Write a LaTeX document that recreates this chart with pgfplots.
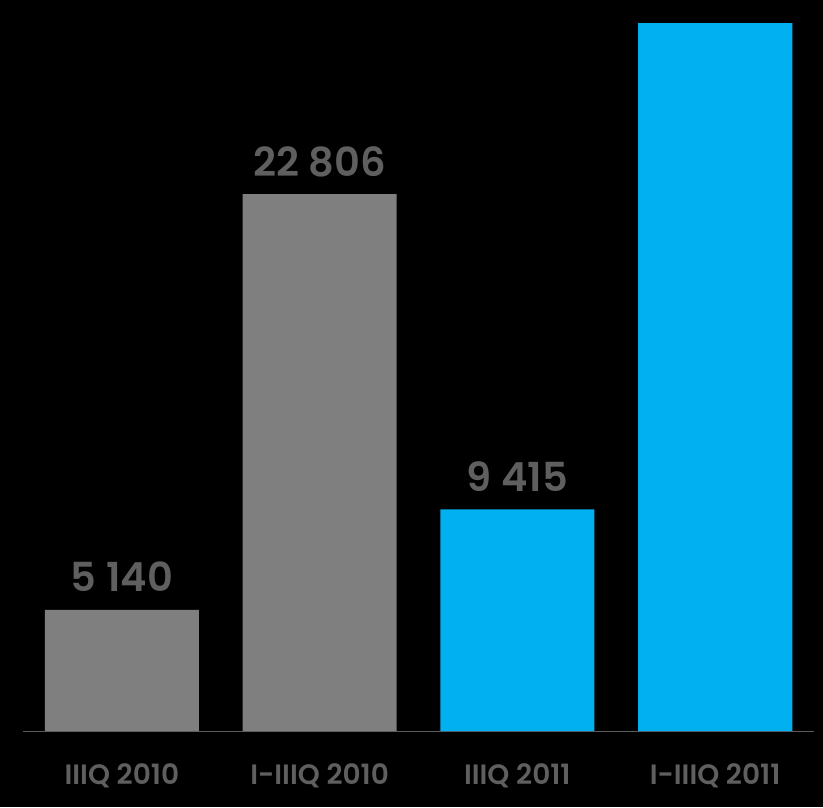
\documentclass[border=0pt]{standalone}
\usepackage{pgfplots}
\pgfplotsset{compat=1.18}
\usepackage{fontspec}
\setmainfont{Poppins}[BoldFont={Poppins SemiBold}]
\definecolor{bargray}{HTML}{7F7F7F}
\definecolor{barblue}{HTML}{00B0F0}
\definecolor{txtgray}{HTML}{5F5F5F}
\definecolor{linegray}{HTML}{5A5A5A}
\begin{document}
\begin{tikzpicture}
\fill[black] (-23pt,-76pt) rectangle (800pt,731pt);
\begin{axis}[
  at={(0,0)}, anchor=south west,
  scale only axis,
  width=791pt, height=731pt,
  xmin=-0.5, xmax=3.5,
  ymin=0, ymax=31046,
  ybar, bar width=0.78,
  axis y line=none,
  axis x line*=bottom,
  x axis line style={-, draw=linegray, line width=1pt},
  xtick={0,1,2,3},
  xticklabels={IIIQ 2010, I-IIIQ 2010, IIIQ 2011, I-IIIQ 2011},
  xtick style={draw=none},
  xticklabel style={anchor=base, inner sep=0pt, yshift=-49pt, text=txtgray, font=\fontsize{28}{28}\selectfont\bfseries},
  point meta=explicit symbolic,
  nodes near coords,
  every node near coord/.append style={anchor=base, inner sep=0pt, yshift=18pt, text=txtgray, font=\fontsize{40}{40}\selectfont\bfseries},
  clip=false,
]
\addplot[fill=bargray, draw=none, bar shift=0pt] coordinates {(0,5140) [5 140] (1,22806) [22 806]};
\addplot[fill=barblue, draw=none, bar shift=0pt] coordinates {(2,9415) [9 415] (3,30069) []};
\end{axis}
\pgfresetboundingbox
\useasboundingbox (-23pt,-76pt) rectangle (800pt,731pt);
\end{tikzpicture}
\end{document}
